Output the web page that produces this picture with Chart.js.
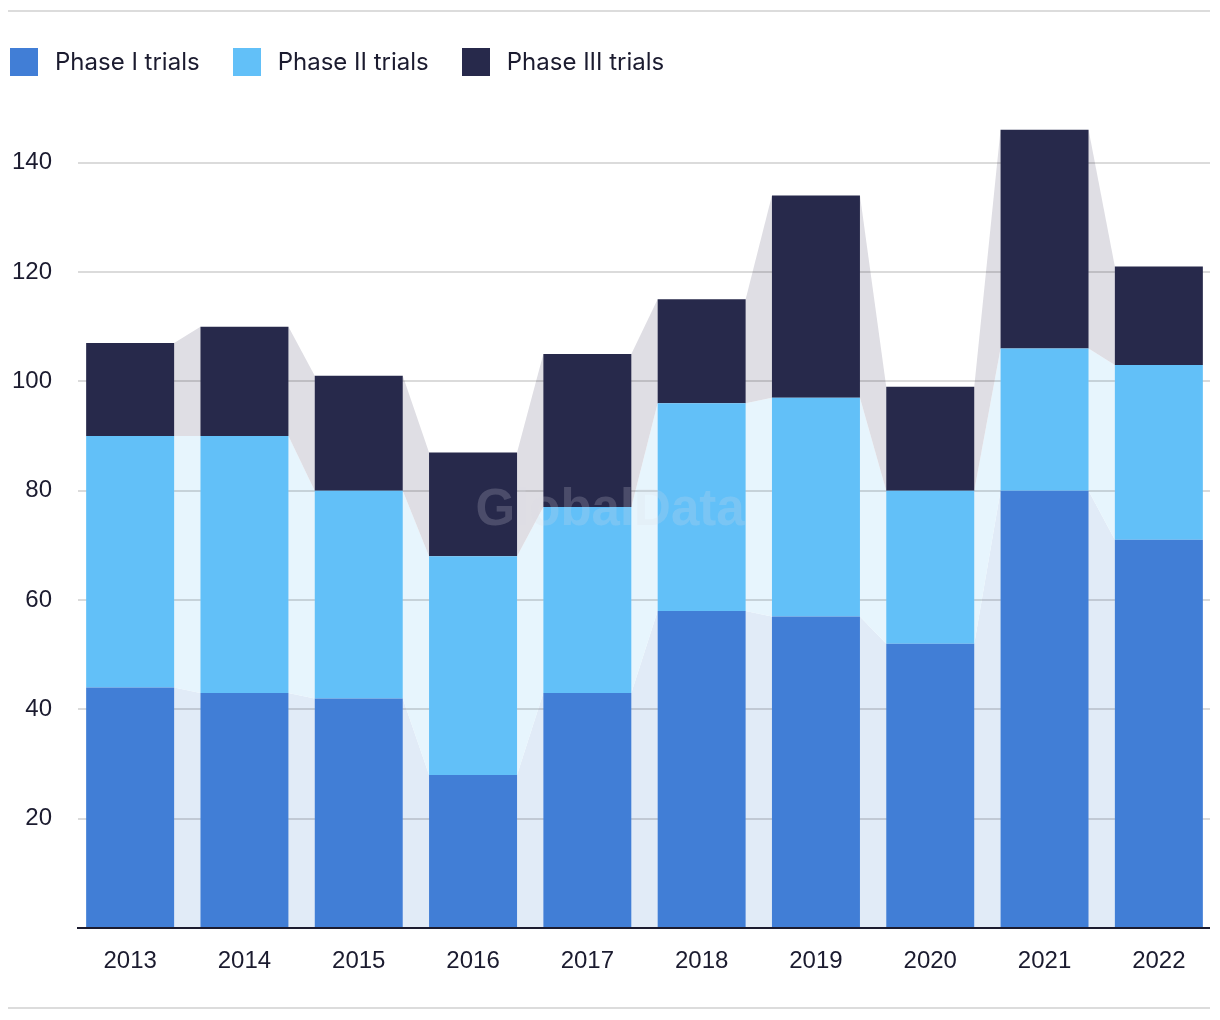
<!DOCTYPE html>
<html>
<head>
<meta charset="utf-8">
<script src="https://cdn.jsdelivr.net/npm/chart.js@4"></script>
<style>
    body { margin: 0; background: #fff; font-family: Inter, sans-serif; }
    #wrap { position: relative; width: 1220px; height: 1020px; }
    #chart { position: absolute; left: 0; top: 0; }
    .rule { position: absolute; left: 8px; width: 1202px; height: 2px; background: #dcdcdc; }
    #legend { position: absolute; left: 10px; top: 48px; display: flex; align-items: center; z-index: 2; }
    .legend-item { display: flex; align-items: center; margin-right: 33px; }
    .legend-box { width: 28px; height: 28px; margin-right: 17px; }
    .legend-text { font-size: 24px; color: #1b1b2f; line-height: 28px; }
</style>
</head>
<body>
<div id="wrap">
    <div class="rule" style="top:10px"></div>
    <div id="legend"></div>
    <canvas id="chart" width="1220" height="1020"></canvas>
    <div class="rule" style="top:1007px"></div>
</div>
<script>
// ---- data ----
const years = ['2013', '2014', '2015', '2016', '2017', '2018', '2019', '2020', '2021', '2022'];
const phaseOne = [44, 43, 42, 28, 43, 58, 57, 52, 80, 71];
const phaseTwo = [46, 47, 38, 40, 34, 38, 40, 28, 26, 32];
const phaseThree = [17, 20, 21, 19, 28, 19, 37, 19, 40, 18];
const yTicks = [20, 40, 60, 80, 100, 120, 140];

const seriesNames = ['Phase I trials', 'Phase II trials', 'Phase III trials'];
const barColors = ['#417ed6', '#62c0f8', '#27294b'];
const bandColors = ['#e1ebf7', '#e7f5fd', '#dfdee4'];
const tickFont = { family: '"Liberation Sans", Arial, sans-serif', size: 24 };

// custom HTML legend
const legendEl = document.getElementById('legend');
seriesNames.forEach(function(name, i) {
    const item = document.createElement('div');
    item.className = 'legend-item';
    item.innerHTML = '<div class="legend-box" style="background:' + barColors[i] + '"></div>' +
        '<span class="legend-text">' + name + '</span>';
    legendEl.appendChild(item);
});

// bands joining neighbouring bars, grid drawn on top of them
const bandsPlugin = {
    id: 'bands',
    beforeDatasetsDraw(chart) {
        const ctx = chart.ctx;
        ctx.save();
        chart.data.datasets.forEach(function(ds, d) {
            const bars = chart.getDatasetMeta(d).data;
            ctx.fillStyle = bandColors[d];
            for (let i = 0; i < bars.length - 1; i++) {
                const a = bars[i].getProps(['x', 'y', 'base', 'width'], true);
                const b = bars[i + 1].getProps(['x', 'y', 'base', 'width'], true);
                const ar = a.x + a.width / 2;
                const bl = b.x - b.width / 2;
                ctx.beginPath();
                ctx.moveTo(ar, a.y);
                ctx.lineTo(bl, b.y);
                ctx.lineTo(bl, b.base);
                ctx.lineTo(ar, a.base);
                ctx.closePath();
                ctx.fill();
            }
        });
        // grid lines
        const yScale = chart.scales.y;
        ctx.strokeStyle = 'rgba(0,0,0,0.14)';
        ctx.lineWidth = 2;
        yTicks.forEach(function(v) {
            const py = Math.round(yScale.getPixelForValue(v));
            ctx.beginPath();
            ctx.moveTo(78, py);
            ctx.lineTo(1210, py);
            ctx.stroke();
        });
        ctx.restore();
    },
    afterDatasetsDraw(chart) {
        const ctx = chart.ctx;
        const yScale = chart.scales.y;
        ctx.save();
        // base axis line
        const py = yScale.getPixelForValue(0);
        ctx.strokeStyle = '#1b1b2f';
        ctx.lineWidth = 2;
        ctx.beginPath();
        ctx.moveTo(77, py);
        ctx.lineTo(1210, py);
        ctx.stroke();
        // watermark
        ctx.font = 'bold 51px "Liberation Sans", Arial, sans-serif';
        ctx.fillStyle = 'rgba(220,222,232,0.2)';
        ctx.textAlign = 'center';
        ctx.textBaseline = 'middle';
        ctx.fillText('GlobalData', 610, 511);
        ctx.restore();
    }
};

const ctx = document.getElementById('chart').getContext('2d');
const chart = new Chart(ctx, {
    type: 'bar',
    data: {
        labels: years,
        datasets: [
            { label: seriesNames[0], data: phaseOne, backgroundColor: barColors[0] },
            { label: seriesNames[1], data: phaseTwo, backgroundColor: barColors[1] },
            { label: seriesNames[2], data: phaseThree, backgroundColor: barColors[2] }
        ]
    },
    options: {
        responsive: false,
        animation: false,
        layout: { padding: { top: 108, right: 4, left: 0, bottom: 0 } },
        datasets: {
            bar: { categoryPercentage: 1, barPercentage: 0.77, borderWidth: 0 }
        },
        scales: {
            x: {
                stacked: true,
                grid: { display: false, drawTicks: false },
                border: { display: false },
                ticks: {
                    color: '#1b1b2f',
                    font: tickFont,
                    padding: 19,
                    maxRotation: 0
                },
                afterFit(scale) { scale.height = 92; }
            },
            y: {
                stacked: true,
                min: 0,
                max: 150,
                grid: { display: false, drawTicks: false },
                border: { display: false },
                ticks: {
                    stepSize: 20,
                    color: '#1b1b2f',
                    font: tickFont,
                    padding: 21,
                    callback: function(v) { return yTicks.includes(v) ? String(v) : ''; }
                },
                afterFit(scale) { scale.width = 73; }
            }
        },
        plugins: {
            legend: { display: false },
            tooltip: { enabled: true }
        }
    },
    plugins: [bandsPlugin]
});
</script>
</body>
</html>
